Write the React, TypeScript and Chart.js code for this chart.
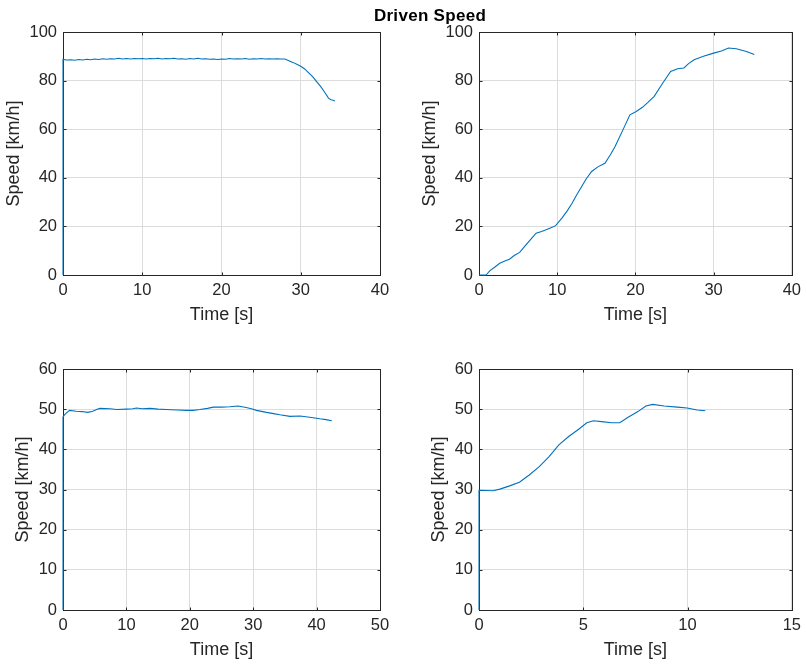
import React, { useEffect, useRef } from "react";
import { Chart, registerables } from "chart.js";

Chart.register(...registerables);

// ---------- DATA ----------
const titleText = "Driven Speed";
const xLabel = "Time [s]";
const yLabel = "Speed [km/h]";

// Top-left
const tlTime = [0, 0, 0.5, 1, 1.5, 2, 2.5, 3, 3.5, 4, 4.5, 5, 5.5, 6, 6.5, 7, 7.5, 8, 8.5, 9, 9.5, 10, 10.5, 11, 11.5, 12, 12.5, 13, 13.5, 14, 14.5, 15, 15.5, 16, 16.5, 17, 17.5, 18, 18.5, 19, 19.5, 20, 20.5, 21, 21.5, 22, 22.5, 23, 23.5, 24, 24.5, 25, 25.5, 26, 26.5, 27, 27.5, 28, 28.5, 29, 29.5, 30, 30.5, 31, 31.5, 32, 32.5, 33, 33.5, 33.8, 34.0, 34.3];
const tlSpeed = [0, 88.7, 88.5, 88.6, 88.4, 88.7, 88.5, 88.8, 88.6, 88.9, 88.7, 89.0, 88.8, 89.0, 88.9, 89.2, 88.9, 89.1, 88.9, 89.1, 89.0, 89.1, 88.9, 89.1, 89.0, 89.2, 88.9, 89.1, 89.0, 89.2, 88.9, 89.0, 88.8, 89.1, 88.9, 89.2, 88.9, 89.0, 88.8, 88.9, 88.7, 88.9, 88.8, 89.1, 88.9, 89.0, 88.9, 89.1, 88.8, 89.0, 88.9, 89.1, 88.9, 89.0, 88.9, 89.0, 88.9, 88.9, 88.2, 87.5, 86.7, 85.9, 84.8, 83.2, 81.6, 79.6, 77.6, 75.3, 72.8, 72.1, 72.0, 71.6];
const tlXTicks = [0, 10, 20, 30, 40];
const tlYTicks = [0, 20, 40, 60, 80, 100];

// Top-right
const trTime = [0, 0.9, 1.4, 2, 2.65, 3.3, 3.9, 4.5, 5.2, 6.0, 6.7, 7.3, 8.0, 8.5, 9.2, 9.8, 10.6, 11.3, 11.9, 12.5, 13.0, 13.7, 14.4, 15.2, 16.1, 16.8, 17.4, 18.3, 19.3, 20.1, 20.9, 21.6, 22.4, 23.4, 24.5, 25.4, 26.2, 26.8, 27.5, 28.7, 30, 31, 31.9, 32.9, 34.2, 35.2];
const trSpeed = [0, 0, 1.8, 3.2, 4.8, 5.8, 6.5, 8, 9.3, 12.4, 15, 17.2, 17.9, 18.5, 19.4, 20.3, 23.4, 26.5, 29.5, 33, 35.7, 39.5, 42.6, 44.5, 46, 49.5, 52.9, 59, 65.9, 67.3, 69, 71, 73.5, 78.5, 83.8, 84.9, 85.2, 87, 88.6, 90, 91.3, 92.2, 93.4, 93.1, 92, 90.7];
const trXTicks = [0, 10, 20, 30, 40];
const trYTicks = [0, 20, 40, 60, 80, 100];

// Bottom-left
const blTime = [0, 0, 0.2, 0.5, 1.05, 2.1, 3.0, 3.9, 4.7, 5.3, 5.8, 7.4, 8.5, 10, 11.0, 11.6, 12.5, 13.7, 15, 16.3, 18, 19.5, 20.5, 21.6, 22.8, 23.7, 25, 26.3, 27.6, 28.9, 30, 30.5, 32.1, 33.2, 34.2, 35.8, 37.4, 38.9, 40.5, 41.5, 42.4];
const blSpeed = [0, 48, 48.5, 49, 49.7, 49.5, 49.4, 49.2, 49.5, 49.9, 50.2, 50.1, 49.9, 50, 50.1, 50.3, 50.1, 50.2, 50.0, 49.9, 49.8, 49.7, 49.7, 49.9, 50.2, 50.5, 50.5, 50.6, 50.8, 50.4, 50, 49.7, 49.2, 48.9, 48.6, 48.2, 48.3, 48.0, 47.6, 47.4, 47.1];
const blXTicks = [0, 10, 20, 30, 40, 50];
const blYTicks = [0, 10, 20, 30, 40, 50, 60];

// Bottom-right
const brTime = [0, 0, 0.68, 1.0, 1.47, 1.94, 2.41, 2.89, 3.36, 3.83, 4.3, 4.78, 5.17, 5.49, 5.88, 6.36, 6.75, 7.15, 7.62, 8.0, 8.33, 8.88, 9.51, 9.98, 10.46, 10.85];
const brSpeed = [0, 29.8, 29.7, 30.1, 30.9, 31.8, 33.6, 35.7, 38.2, 41.1, 43.2, 45, 46.6, 47.1, 46.9, 46.6, 46.6, 48, 49.4, 50.8, 51.2, 50.8, 50.5, 50.3, 49.8, 49.6];
const brXTicks = [0, 5, 10, 15];
const brYTicks = [0, 10, 20, 30, 40, 50, 60];

// ---------- STYLE ----------
const FONT = "'Liberation Sans', Arial, Helvetica, sans-serif";
const TEXT = "#262626";
const LINE = "#0072BD";
const GRID = "#dcdcdc";

const boxPlugin = {
  id: "matlabBox",
  beforeDatasetsDraw(chart: any) {
    const { ctx, chartArea: a, scales } = chart;
    const xs = scales.x;
    const ys = scales.y;
    const L = Math.round(a.left) + 0.5;
    const R = Math.round(a.right) + 0.5;
    const T = Math.round(a.top) + 0.5;
    const B = Math.round(a.bottom) + 0.5;
    const tk = 3;
    ctx.save();
    ctx.strokeStyle = TEXT;
    ctx.lineWidth = 1;
    ctx.beginPath();
    xs.ticks.forEach((t: any) => {
      const p = Math.round(xs.getPixelForValue(t.value)) + 0.5;
      ctx.moveTo(p, B);
      ctx.lineTo(p, B - tk);
      ctx.moveTo(p, T);
      ctx.lineTo(p, T + tk);
    });
    ys.ticks.forEach((t: any) => {
      const p = Math.round(ys.getPixelForValue(t.value)) + 0.5;
      ctx.moveTo(L, p);
      ctx.lineTo(L + tk, p);
      ctx.moveTo(R, p);
      ctx.lineTo(R - tk, p);
    });
    ctx.stroke();
    ctx.strokeRect(L, T, R - L, B - T);
    ctx.restore();
  },
};

type PanelProps = {
  time: number[];
  speed: number[];
  xTicks: number[];
  yTicks: number[];
  left: number;
  top: number;
  width: number;
  height: number;
  pad: { left: number; top: number; right: number; bottom: number };
  yWidth: number;
  xHeight: number;
};

function Panel(p: PanelProps) {
  const ref = useRef<HTMLCanvasElement | null>(null);
  useEffect(() => {
    if (!ref.current) return;
    const pts = p.time.map((t, i) => ({ x: t, y: p.speed[i] }));
    const xStep = p.xTicks[1] - p.xTicks[0];
    const yStep = p.yTicks[1] - p.yTicks[0];
    const chart = new Chart(ref.current, {
      type: "scatter",
      data: {
        datasets: [
          {
            data: pts,
            showLine: true,
            borderColor: LINE,
            backgroundColor: LINE,
            borderWidth: 1.1,
            pointRadius: 0,
            tension: 0,
            clip: 4,
          } as any,
        ],
      },
      plugins: [boxPlugin],
      options: {
        animation: false,
        responsive: false,
        devicePixelRatio: 1,
        layout: { padding: p.pad },
        plugins: {
          legend: { display: false },
          tooltip: { enabled: false },
          title: { display: false },
        },
        scales: {
          x: {
            type: "linear",
            min: p.xTicks[0],
            max: p.xTicks[p.xTicks.length - 1],
            afterBuildTicks: (s: any) => {
              s.ticks = p.xTicks.map((v) => ({ value: v }));
            },
            ticks: {
              stepSize: xStep,
              color: TEXT,
              padding: 6,
              maxRotation: 0,
              font: { family: FONT, size: 16.5 },
            },
            grid: { color: GRID, lineWidth: 1, drawTicks: false },
            border: { display: false },
            title: {
              display: true,
              text: xLabel,
              color: TEXT,
              font: { family: FONT, size: 18 },
              padding: { top: 0, bottom: 3 },
            },
            afterFit: (s: any) => {
              s.height = p.xHeight;
            },
          },
          y: {
            type: "linear",
            min: p.yTicks[0],
            max: p.yTicks[p.yTicks.length - 1],
            afterBuildTicks: (s: any) => {
              s.ticks = p.yTicks.map((v) => ({ value: v }));
            },
            ticks: {
              stepSize: yStep,
              color: TEXT,
              padding: 6,
              font: { family: FONT, size: 16.5 },
            },
            grid: { color: GRID, lineWidth: 1, drawTicks: false },
            border: { display: false },
            title: {
              display: true,
              text: yLabel,
              color: TEXT,
              font: { family: FONT, size: 18 },
              padding: { top: 3.4, bottom: 0 },
            },
            afterFit: (s: any) => {
              s.width = p.yWidth;
            },
          },
        },
      } as any,
    });
    return () => chart.destroy();
  }, []);
  return (
    <canvas
      ref={ref}
      width={p.width}
      height={p.height}
      style={{
        position: "absolute",
        left: p.left,
        top: p.top,
        width: p.width,
        height: p.height,
      }}
    />
  );
}

export default function App() {
  return (
    <div
      style={{
        position: "fixed",
        left: 0,
        top: 0,
        width: 807,
        height: 664,
        background: "#ffffff",
        overflow: "hidden",
      }}
    >
      <Panel
        time={tlTime}
        speed={tlSpeed}
        xTicks={tlXTicks}
        yTicks={tlYTicks}
        left={0}
        top={0}
        width={400}
        height={329}
        pad={{ left: 0, top: 32, right: 20, bottom: 0 }}
        yWidth={63}
        xHeight={54}
      />
      <Panel
        time={trTime}
        speed={trSpeed}
        xTicks={trXTicks}
        yTicks={trYTicks}
        left={400}
        top={0}
        width={407}
        height={329}
        pad={{ left: 16, top: 32, right: 11, bottom: 0 }}
        yWidth={63}
        xHeight={54}
      />
      <Panel
        time={blTime}
        speed={blSpeed}
        xTicks={blXTicks}
        yTicks={blYTicks}
        left={0}
        top={329}
        width={400}
        height={335}
        pad={{ left: 9, top: 40, right: 20, bottom: 0 }}
        yWidth={54}
        xHeight={54}
      />
      <Panel
        time={brTime}
        speed={brSpeed}
        xTicks={brXTicks}
        yTicks={brYTicks}
        left={400}
        top={329}
        width={407}
        height={335}
        pad={{ left: 25, top: 40, right: 11, bottom: 0 }}
        yWidth={54}
        xHeight={54}
      />
      <div
        style={{
          position: "absolute",
          left: 430,
          top: 7,
          transform: "translateX(-50%)",
          fontFamily: FONT,
          fontWeight: "bold",
          fontSize: 17,
          lineHeight: "17px",
          letterSpacing: "0.3px",
          color: "#000000",
          whiteSpace: "nowrap",
        }}
      >
        {titleText}
      </div>
    </div>
  );
}
